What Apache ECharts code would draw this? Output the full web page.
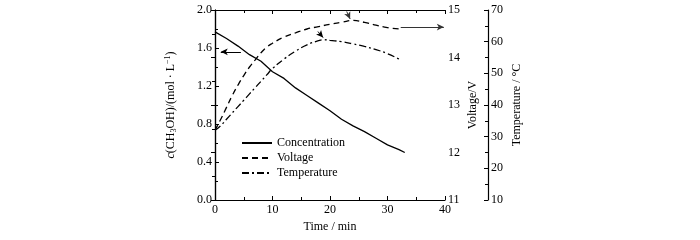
<!DOCTYPE html>
<html><head><meta charset="utf-8">
<script src="https://cdn.jsdelivr.net/npm/echarts@6/dist/echarts.min.js"></script>
<style>html,body{margin:0;padding:0;background:#fff}#c{width:700px;height:240px}</style>
</head><body><div id="c"></div>
<script>
const concTime = [0,2,4,6,8,10,12,14,16,18,20,22,24,26,28,30,32,33];
const concValues = [1.77,1.70,1.62,1.53,1.46,1.35,1.28,1.18,1.10,1.02,0.94,0.85,0.78,0.72,0.65,0.58,0.53,0.50];
const voltTime = [0,1,2,3,4,5,6,7,8,9,10,12,14,16,18,20,22,24,26,28,30,32];
const voltValues = [12.47,12.7,12.95,13.2,13.42,13.62,13.8,13.95,14.1,14.22,14.3,14.43,14.52,14.6,14.65,14.7,14.74,14.78,14.74,14.68,14.63,14.6];
const tempTime = [0,1,2,3,4,5,6,7,8,9,10,12,14,16,18,19,20,22,24,26,28,30,32];
const tempValues = [32,33.5,35.5,37.5,39.5,41.5,43.5,45.5,47.5,49.5,51.5,54.5,57,59,60.3,60.6,60.4,60,59.3,58.5,57.5,56.2,54.5];
const seriesNames = ['Concentration','Voltage','Temperature'];

const zip = (a,b) => a.map((t,i)=>[t,b[i]]);
const FONT = 'Liberation Serif';
const axLine = {show:true, lineStyle:{color:'#000', width:1.2}};
const lbl = {color:'#000', fontFamily:FONT, fontSize:12};
const arrowML = (pairs, color) => ({
  silent:true, animation:false, symbol:['none','arrow'], symbolSize:[5,7],
  label:{show:false}, lineStyle:{color:color||'#000', type:'solid', width:1},
  emphasis:{disabled:true},
  data: pairs.map(p=>[{coord:p[0]},{coord:p[1]}])
});

const chart = echarts.init(document.getElementById('c'), null, {renderer:'canvas'});
chart.setOption({
  animation:false,
  grid:{left:215, right:255, top:10, bottom:40},
  legend:{
    orient:'vertical', left:236, top:132, itemWidth:30, itemHeight:12, itemGap:3,
    itemStyle:{opacity:0},
    textStyle:{color:'#000', fontFamily:FONT, fontSize:12},
    data: seriesNames
  },
  xAxis:[
    {type:'value', min:0, max:40, interval:10, position:'bottom',
     axisLine:axLine, axisTick:{show:true, inside:true, length:4, lineStyle:{color:'#000'}},
     minorTick:{show:true, splitNumber:2, length:3, lineStyle:{color:'#000'}},
     splitLine:{show:false}, axisLabel:Object.assign({margin:4}, lbl),
     name:'Time / min', nameLocation:'middle', nameGap:17, nameTextStyle:lbl},
    {type:'value', min:0, max:40, interval:10, position:'top',
     axisLine:axLine, axisTick:{show:true, inside:true, length:4, lineStyle:{color:'#000'}},
     minorTick:{show:true, splitNumber:2, length:3, lineStyle:{color:'#000'}},
     splitLine:{show:false}, axisLabel:{show:false}}
  ],
  yAxis:[
    {type:'value', min:0, max:2, interval:0.4, position:'left',
     axisLine:axLine, axisTick:{show:true, inside:true, length:4, lineStyle:{color:'#000'}},
     minorTick:{show:true, splitNumber:2, length:3, lineStyle:{color:'#000'}},
     splitLine:{show:false},
     axisLabel:Object.assign({margin:3, formatter:v=>v.toFixed(1)}, lbl),
     name:'{i|c}(CH{s|3}OH)/(mol · L{u|−1})', nameLocation:'middle', nameGap:37,
     nameTextStyle:Object.assign({rich:{
        i:{fontFamily:FONT, fontSize:12, fontStyle:'italic', color:'#000'},
        s:{fontFamily:FONT, fontSize:8, verticalAlign:'bottom', padding:[6,0,0,0], color:'#000'},
        u:{fontFamily:FONT, fontSize:8, verticalAlign:'top', padding:[0,0,6,0], color:'#000'}
     }}, lbl)},
    {type:'value', min:11, max:15, interval:1, position:'right',
     axisLine:axLine, axisTick:{show:true, inside:true, length:4, lineStyle:{color:'#000'}},
     minorTick:{show:true, splitNumber:2, length:3, lineStyle:{color:'#000'}},
     splitLine:{show:false}, axisLabel:Object.assign({margin:3}, lbl),
     name:'Voltage/V', nameLocation:'middle', nameGap:22, nameTextStyle:lbl},
    {type:'value', min:10, max:70, interval:10, position:'right', offset:43,
     axisLine:axLine, axisTick:{show:true, inside:true, length:4, lineStyle:{color:'#000'}},
     minorTick:{show:true, splitNumber:2, length:3, lineStyle:{color:'#000'}},
     splitLine:{show:false}, axisLabel:Object.assign({margin:3}, lbl),
     name:'Temperature / °C', nameLocation:'middle', nameGap:23, nameTextStyle:lbl}
  ],
  series:[
    {name:seriesNames[0], type:'line', xAxisIndex:0, yAxisIndex:0, symbol:'none', smooth:false,
     lineStyle:{color:'#000', width:1.3, type:'solid'}, itemStyle:{color:'#000'},
     data:zip(concTime, concValues),
     markLine:arrowML([[[4.5,1.56],[1.0,1.56]]])},
    {name:seriesNames[1], type:'line', xAxisIndex:0, yAxisIndex:1, symbol:'none', smooth:true,
     lineStyle:{color:'#000', width:1.3, type:[6,4]}, itemStyle:{color:'#000'},
     data:zip(voltTime, voltValues),
     markLine:arrowML([[[32.3,14.64],[39.8,14.64]],[[22.9,14.97],[23.5,14.81]]], '#333')},
    {name:seriesNames[2], type:'line', xAxisIndex:0, yAxisIndex:2, symbol:'none', smooth:true,
     lineStyle:{color:'#000', width:1.3, type:[7,3,2,3]}, itemStyle:{color:'#000'},
     data:zip(tempTime, tempValues),
     markLine:arrowML([[[17.9,63.2],[18.8,61.3]]])}
  ]
});
</script></body></html>
